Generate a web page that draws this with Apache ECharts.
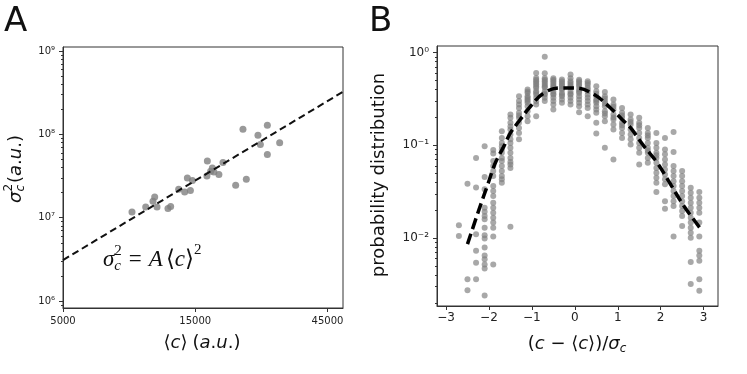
<!DOCTYPE html>
<html lang="en">
<head>
<meta charset="UTF-8">
<title>noise scaling</title>
<style>
    html, body { margin: 0; padding: 0; background: #fff; }
    #main { width: 747px; height: 374px; }
</style>
</head>
<body>
<div id="main"></div>
<script src="https://cdn.jsdelivr.net/npm/echarts@6/dist/echarts.min.js"></script>
<script>
    // ---- panel A : variance vs mean ----
    var meanC = [8870, 9940, 10710, 10560, 10920, 11960, 12230, 13070, 13740, 14410, 14050, 14650,
        16590, 16530, 17290, 17520, 17050, 18260, 18890, 20990, 22930, 22300, 25260, 27310, 25770, 27310, 30250];
    var varC = [1.173e7, 1.348e7, 1.776e7, 1.577e7, 1.348e7, 1.289e7, 1.362e7, 2.196e7, 2.039e7, 2.119e7, 3.0e7, 2.793e7,
        4.797e7, 3.171e7, 3.955e7, 3.542e7, 3.61e7, 3.296e7, 4.59e7, 2.453e7, 2.894e7, 1.151e8, 9.754e7, 1.285e8, 7.546e7, 5.725e7, 7.93e7];
    var fitX = [5000, 51200];
    var fitY = [3.1e6, 3.25e8];
    var xTicksA = [5000, 15000, 45000];
    var yTicksA = [1e6, 1e7, 1e8, 1e9];

    // ---- panel B : rescaled distributions ----
    var binX = [-2.7, -2.5, -2.3, -2.1, -1.9, -1.7, -1.5, -1.3, -1.1, -0.9, -0.7, -0.5, -0.3, -0.1,
        0.1, 0.3, 0.5, 0.7, 0.9, 1.1, 1.3, 1.5, 1.7, 1.9, 2.1, 2.3, 2.5, 2.7, 2.9];
    var binP = [
        [0.0137, 0.0105],
        [0.0385, 0.0036, 0.00274],
        [0.073, 0.035, 0.011, 0.0073, 0.0054, 0.0036],
        [0.098, 0.0455, 0.0335, 0.0212, 0.0192, 0.0173, 0.0159, 0.0129, 0.0107, 0.0099, 0.0079, 0.0065, 0.0059, 0.0052, 0.0047, 0.0024],
        [0.0888, 0.0818, 0.0676, 0.0597, 0.0527, 0.0466, 0.0364, 0.0321, 0.0284, 0.024, 0.0212, 0.0188, 0.0166, 0.0147, 0.0129, 0.0104, 0.0052],
        [0.142, 0.12, 0.106, 0.098, 0.09, 0.083, 0.073, 0.0676, 0.0597, 0.0527, 0.0466, 0.043, 0.0394],
        [0.215, 0.198, 0.175, 0.16, 0.148, 0.131, 0.116, 0.106, 0.094, 0.083, 0.073, 0.066, 0.062, 0.057, 0.0132],
        [0.339, 0.3, 0.276, 0.253, 0.224, 0.21, 0.198, 0.175, 0.154, 0.136, 0.116],
        [0.40, 0.38, 0.367, 0.339, 0.325, 0.312, 0.3, 0.287, 0.264, 0.233, 0.206, 0.182],
        [0.604, 0.533, 0.51, 0.491, 0.47, 0.452, 0.43, 0.416, 0.383, 0.37, 0.353, 0.325, 0.299, 0.276, 0.206],
        [0.90, 0.60, 0.53, 0.51, 0.49, 0.47, 0.45, 0.43, 0.42, 0.38, 0.36, 0.35, 0.325, 0.30],
        [0.53, 0.51, 0.49, 0.47, 0.45, 0.43, 0.42, 0.38, 0.36, 0.35, 0.325, 0.30, 0.276, 0.243],
        [0.512, 0.49, 0.471, 0.45, 0.434, 0.41, 0.40, 0.367, 0.35, 0.339, 0.312, 0.287],
        [0.58, 0.53, 0.49, 0.47, 0.45, 0.43, 0.42, 0.38, 0.36, 0.35, 0.325, 0.30, 0.276],
        [0.51, 0.49, 0.47, 0.45, 0.43, 0.40, 0.38, 0.367, 0.339, 0.312, 0.287, 0.264, 0.228],
        [0.49, 0.47, 0.45, 0.42, 0.40, 0.38, 0.35, 0.325, 0.30, 0.276, 0.253, 0.206],
        [0.434, 0.383, 0.36, 0.339, 0.312, 0.3, 0.287, 0.264, 0.243, 0.224, 0.175, 0.134],
        [0.377, 0.339, 0.32, 0.299, 0.28, 0.264, 0.233, 0.22, 0.206, 0.182, 0.094],
        [0.312, 0.276, 0.26, 0.243, 0.215, 0.2, 0.19, 0.168, 0.148, 0.0705],
        [0.253, 0.224, 0.21, 0.198, 0.175, 0.165, 0.154, 0.136, 0.12],
        [0.215, 0.19, 0.178, 0.168, 0.148, 0.131, 0.116, 0.102],
        [0.198, 0.175, 0.165, 0.154, 0.136, 0.12, 0.106, 0.094, 0.083, 0.062],
        [0.154, 0.136, 0.128, 0.12, 0.106, 0.094, 0.088, 0.083, 0.073, 0.065],
        [0.136, 0.106, 0.094, 0.083, 0.078, 0.073, 0.065, 0.057, 0.0506, 0.0447, 0.0394, 0.0313],
        [0.12, 0.09, 0.08, 0.0705, 0.062, 0.055, 0.0486, 0.043, 0.038, 0.025, 0.0207],
        [0.139, 0.0845, 0.0597, 0.0527, 0.0466, 0.041, 0.0364, 0.0321, 0.0284, 0.025, 0.0222, 0.0104],
        [0.0527, 0.0466, 0.041, 0.0364, 0.0321, 0.0284, 0.025, 0.0222, 0.0196, 0.0173, 0.0135],
        [0.0349, 0.0308, 0.0272, 0.024, 0.0212, 0.0188, 0.0166, 0.0147, 0.0129, 0.0114, 0.0101, 0.0055, 0.0032],
        [0.0313, 0.0272, 0.024, 0.0212, 0.0188, 0.0147, 0.0104, 0.0073, 0.0065, 0.0057, 0.0036, 0.0027]
    ];
    var curveX = [-2.5, -2.23, -2.04, -1.85, -1.65, -1.5, -1.3, -1.03, -0.72, -0.33, 0.02, 0.45, 0.83, 1.1, 1.3, 1.61, 1.92, 2.23, 2.54, 2.97];
    var curveY = [0.0086, 0.0204, 0.0364, 0.0648, 0.098, 0.136, 0.182, 0.264, 0.367, 0.416, 0.416, 0.353, 0.253, 0.19, 0.154, 0.098, 0.0648, 0.038, 0.0222, 0.0119];
    var xTicksB = [-3, -2, -1, 0, 1, 2, 3];
    var yTicksB = [0.01, 0.1, 1];

    var supMap = {'0': '⁰', '1': '¹', '2': '²', '3': '³', '4': '⁴', '5': '⁵', '6': '⁶', '7': '⁷', '8': '⁸', '9': '⁹', '-': '⁻'};
    function powLabel(v) {
        var e = String(Math.round(Math.log10(v)));
        return '10' + e.split('').map(function (c) { return supMap[c]; }).join('');
    }
    function minorTicks(lo, hi) {
        var out = [];
        for (var d = lo; d < hi; d++) {
            for (var k = 2; k < 10; k++) out.push(k * Math.pow(10, d));
        }
        return out;
    }

    var scatterA = meanC.map(function (x, i) { return [x, varC[i]]; });
    var fitA = fitX.map(function (x, i) { return [x, fitY[i]]; });
    var scatterB = [];
    binX.forEach(function (x, i) {
        binP[i].forEach(function (p) { scatterB.push([x, p]); });
    });
    var curveB = curveX.map(function (x, i) { return [x, curveY[i]]; });

    // small helper to lay out math-like labels piece by piece
    var ctx = document.createElement('canvas').getContext('2d');
    function mathText(parts, fam, cx, cy, rot, left) {
        var x = 0, hold = 0, kids = [];
        parts.forEach(function (p) {
            ctx.font = (p.i ? 'italic ' : '') + p.s + 'px ' + fam;
            var w = ctx.measureText(p.t).width;
            kids.push({
                type: 'text', x: x, y: p.dy || 0,
                style: {
                    text: p.t, fontSize: p.s, fontFamily: fam, fontStyle: p.i ? 'italic' : 'normal',
                    fill: '#111', align: 'left', verticalAlign: 'middle'
                }
            });
            if (p.hold) {
                hold = Math.max(hold, w);
            } else {
                x += Math.max(w, hold) + (p.gap || 0);
                hold = 0;
            }
        });
        var off = left ? 0 : -x / 2;
        kids.forEach(function (k) { k.x += off; });
        return {type: 'group', x: cx, y: cy, rotation: rot || 0, children: kids};
    }

    var SANS = 'DejaVu Sans';
    var SERIF = 'Liberation Serif';
    var axisCol = '#333';

    var graphics = [
        {type: 'text', x: 4, y: 22, style: {text: 'A', fontSize: 34, fontFamily: SANS, fill: '#111', verticalAlign: 'middle'}},
        {type: 'text', x: 369, y: 22, style: {text: 'B', fontSize: 34, fontFamily: SANS, fill: '#111', verticalAlign: 'middle'}},
        // y name A
        mathText([
            {t: 'σ', s: 18, i: true},
            {t: '2', s: 12, dy: -7, hold: true},
            {t: 'c', s: 12, i: true, dy: 5, gap: 1},
            {t: '(', s: 18}, {t: 'a', s: 18, i: true}, {t: '.', s: 18}, {t: 'u', s: 18, i: true}, {t: '.', s: 18}, {t: ')', s: 18}
        ], SANS, 16, 169, Math.PI / 2),
        // x name A
        mathText([
            {t: '⟨', s: 18}, {t: 'c', s: 18, i: true}, {t: '⟩', s: 18, gap: 5},
            {t: '(', s: 18}, {t: 'a', s: 18, i: true}, {t: '.', s: 18}, {t: 'u', s: 18, i: true}, {t: '.', s: 18}, {t: ')', s: 18}
        ], SANS, 202, 343, 0),
        // formula
        mathText([
            {t: 'σ', s: 23, i: true},
            {t: '2', s: 15, dy: -9, hold: true},
            {t: 'c', s: 15, i: true, dy: 6, gap: 7},
            {t: '=', s: 23, gap: 7},
            {t: 'A', s: 23, i: true, gap: 3},
            {t: '⟨', s: 23}, {t: 'c', s: 23, i: true}, {t: '⟩', s: 23},
            {t: '2', s: 15, dy: -10}
        ], SERIF, 103, 260, 0, true),
        // y name B
        {type: 'text', x: 379, y: 175, rotation: Math.PI / 2,
            style: {text: 'probability distribution', fontSize: 18, fontFamily: SANS, fill: '#111', align: 'center', verticalAlign: 'middle'}},
        // x name B
        mathText([
            {t: '(', s: 18}, {t: 'c', s: 18, i: true}, {t: ' − ', s: 18}, {t: '⟨', s: 18}, {t: 'c', s: 18, i: true},
            {t: '⟩', s: 18}, {t: ')', s: 18}, {t: '/', s: 18}, {t: 'σ', s: 18, i: true}, {t: 'c', s: 12, i: true, dy: 5}
        ], SANS, 577, 344, 0)
    ];

    function tickAxis(grid, type, pos, min, max, ticks, fmt, size, margin) {
        return {
            gridIndex: grid, type: type, position: pos, min: min, max: max,
            axisLine: {show: true, onZero: false, lineStyle: {color: axisCol, width: 1}},
            axisTick: {show: true, length: 4, customValues: ticks, lineStyle: {color: axisCol}},
            axisLabel: {customValues: ticks, formatter: fmt, fontSize: size, color: '#222', margin: margin, fontFamily: SANS},
            splitLine: {show: false}
        };
    }
    function minorAxis(grid, min, max, ticks) {
        return {
            gridIndex: grid, type: 'log', position: 'left', min: min, max: max,
            axisLine: {show: false, onZero: false},
            axisTick: {show: true, length: 2, customValues: ticks, lineStyle: {color: axisCol}},
            axisLabel: {show: false},
            splitLine: {show: false}
        };
    }

    var element = document.getElementById('main');
    var myChart = echarts.init(element, null, {renderer: 'canvas'});
    var option = {
        animation: false,
        backgroundColor: '#fff',
        grid: [
            {left: 63, top: 47, width: 280, height: 261, show: true, borderColor: axisCol, borderWidth: 1},
            {left: 437, top: 46, width: 281, height: 260, show: true, borderColor: axisCol, borderWidth: 1}
        ],
        xAxis: [
            tickAxis(0, 'log', 'bottom', 5000, 51200, xTicksA, function (v) { return String(Math.round(v)); }, 10, 8),
            tickAxis(1, 'value', 'bottom', -3.21, 3.335, xTicksB, function (v) { return v < 0 ? '−' + (-v) : String(v); }, 12, 6)
        ],
        yAxis: [
            tickAxis(0, 'log', 'left', 8.24e5, 1.12e9, yTicksA, powLabel, 10, 8),
            minorAxis(0, 8.24e5, 1.12e9, minorTicks(5, 9)),
            tickAxis(1, 'log', 'left', 1.85e-3, 1.178, yTicksB, powLabel, 12, 8),
            minorAxis(1, 1.85e-3, 1.178, minorTicks(-3, 0))
        ],
        series: [
            {
                type: 'scatter', xAxisIndex: 0, yAxisIndex: 0, data: scatterA,
                symbolSize: 7, itemStyle: {color: '#808080'}
            },
            {
                type: 'line', xAxisIndex: 0, yAxisIndex: 0, data: fitA, symbol: 'none',
                lineStyle: {color: '#111', width: 2, type: [7, 4]}, z: 3
            },
            {
                type: 'scatter', xAxisIndex: 1, yAxisIndex: 2, data: scatterB,
                symbolSize: 6, itemStyle: {color: 'rgba(128,128,128,0.85)'}
            },
            {
                type: 'line', xAxisIndex: 1, yAxisIndex: 2, data: curveB, symbol: 'none', smooth: 0.4,
                lineStyle: {color: '#000', width: 3.5, type: [11, 5]}, z: 3
            }
        ],
        graphic: graphics
    };
    myChart.setOption(option);
</script>
</body>
</html>
